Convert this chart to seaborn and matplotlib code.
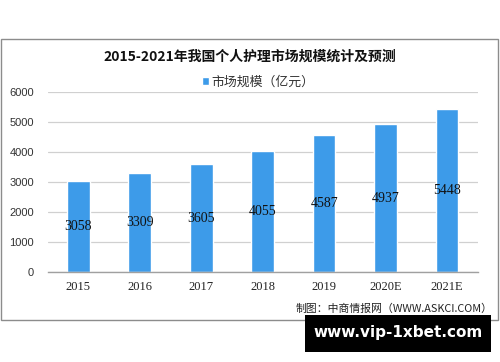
import matplotlib
matplotlib.use("Agg")
import matplotlib.pyplot as plt
import seaborn as sns
import pandas as pd
from matplotlib.patches import Rectangle

years = ["2015", "2016", "2017", "2018", "2019", "2020E", "2021E"]
values = [3058, 3309, 3605, 4055, 4587, 4937, 5448]
yticks = [0, 1000, 2000, 3000, 4000, 5000, 6000]
title = "2015-2021年我国个人护理市场规模统计及预测"
legend_label = "市场规模（亿元）"
source = "制图：中商情报网（WWW.ASKCI.COM）"
watermark = "www.vip-1xbet.com"

sns.set_theme(style="white")
plt.rcParams['font.family'] = ['Noto Sans CJK SC', 'DejaVu Sans']

bar_color = "#3d9be9"
df = pd.DataFrame({"year": years, "value": values})

fig = plt.figure(figsize=(5, 3.62), dpi=100)
# outer border
fig.patches.append(Rectangle((0.002, 1 - 320/362), 0.994, (320-39)/362, transform=fig.transFigure,
                             fill=False, edgecolor="#8c8c8c", linewidth=1.0))

ax = fig.add_axes([47.7/500, 1 - 272.3/362, 430/500, 180/362])
sns.barplot(data=df, x="year", y="value", color=bar_color, width=0.37, ax=ax,
            saturation=1, label=legend_label)
ax.set_xlim(-0.5, 6.5)
ax.set_ylim(0, 6000)
ax.set_yticks(yticks)
ax.set_yticklabels([str(v) for v in yticks], family=["Liberation Sans"], fontsize=8, color="#333333")
ax.set_xticks(range(len(years)))
ax.set_xticklabels(years, family=["Liberation Serif"], fontsize=9, color="#222222")
ax.set_xlabel("")
ax.set_ylabel("")
ax.grid(axis="y", color="#d0d0d0", linewidth=0.9)
ax.set_axisbelow(True)
for s in ["top", "right", "left"]:
    ax.spines[s].set_visible(False)
ax.spines["bottom"].set_color("#a0a0a0")
ax.spines["bottom"].set_linewidth(1.0)
ax.tick_params(axis="x", which="major", length=0, pad=6)
ax.tick_params(axis="y", length=0, pad=10)
ax.set_xticks([i - 0.5 for i in range(len(years) + 1)], minor=True)
ax.tick_params(axis="x", which="minor", length=4, color="#a0a0a0", width=1.0, direction="out")

for i, v in enumerate(values):
    ax.text(i, v / 2, str(v), ha="center", va="center", fontsize=10,
            family=["Liberation Serif"], color="#111111")

leg = ax.legend(loc="lower center", bbox_to_anchor=(0.49, 0.99), frameon=False,
                fontsize=9.3, handlelength=0.55, handleheight=0.55, handletextpad=0.2,
                borderaxespad=0)
for t in leg.get_texts():
    t.set_color("#333333")

fig.text(0.5, 1 - 57/362, title, ha="center", va="center", fontsize=10,
         fontweight="bold", color="#111111")
fig.text(493/500, 1 - 309/362, source, ha="right", va="center", fontsize=7.8, color="#222222")

# black watermark box
fig.patches.append(Rectangle((305/500, 1 - 352/362), 186/500, 37/362, transform=fig.transFigure,
                             facecolor="black", edgecolor="none"))
fig.text(398/500, 1 - 333/362, watermark, ha="center", va="center", fontsize=11,
         fontweight="bold", color="white", family=["DejaVu Sans"])

fig.savefig("out.png", dpi=100)
